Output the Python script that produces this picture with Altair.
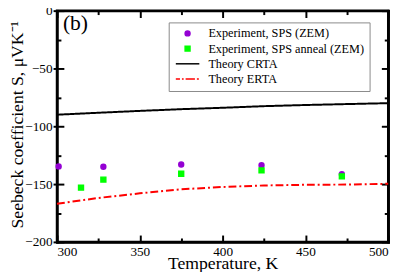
import altair as alt
import pandas as pd

# ---- data ----
series_names = ["Experiment, SPS (ZEM)", "Experiment, SPS anneal (ZEM)", "Theory CRTA", "Theory ERTA"]
series_colors = ["#9400D3", "#00FF00", "#000000", "#FF0000"]

T_sps = [301, 328, 375, 423.5, 472]
S_sps = [-134.7, -135.0, -133.1, -133.6, -141.4]
T_anneal = [314.5, 328, 375, 423.5, 472]
S_anneal = [-153.1, -146.1, -141.1, -138.1, -143.3]

T_theory = [300, 325, 350, 375, 400, 425, 450, 475, 500]
S_crta = [-90.0, -88.3, -86.7, -85.2, -84.0, -82.6, -81.6, -80.8, -80.0]
S_erta = [-167.0, -162.0, -158.0, -154.5, -152.5, -151.2, -150.6, -150.4, -149.7]

x_major = [300, 350, 400, 450, 500]
x_minor = [325, 375, 425, 475]
y_major = [0, -50, -100, -150, -200]
y_minor = [-25, -75, -125, -175]

pts = pd.DataFrame({
    "T": T_sps + T_anneal,
    "S": S_sps + S_anneal,
    "series": [series_names[0]] * len(T_sps) + [series_names[1]] * len(T_anneal),
})
lines = pd.DataFrame({
    "T": T_theory + T_theory,
    "S": S_crta + S_erta,
    "series": [series_names[2]] * len(T_theory) + [series_names[3]] * len(T_theory),
})

FONT = "Liberation Serif"
xscale = alt.Scale(domain=[300, 500], nice=False, zero=False)
yscale = alt.Scale(domain=[-200, 0], nice=False, zero=False)

line_path = "M-4.8,0H4.8"
dash_path = "M-4.8,0H-3.1M-2.3,0H-1.6M-0.8,0H3.0M3.8,0H4.6"

FRAME = dict(domain=True, domainColor="black", domainWidth=2.5, domainCap="square")

x_lab_axis = alt.Axis(values=x_major, ticks=False, tickSize=0, grid=False, **FRAME,
                      labelFont=FONT, labelFontSize=13.5, labelColor="black", labelPadding=3,
                      title="Temperature, K", titleFont=FONT, titleFontSize=18, titleFontWeight="normal",
                      titleColor="black", titleBaseline="alphabetic", titleY=27)
y_lab_axis = alt.Axis(values=y_major, ticks=False, tickSize=0, grid=False, **FRAME,
                      labelFont=FONT, labelFontSize=13.5, labelColor="black", labelPadding=5,
                      title="Seebeck coefficient S, μVK⁻¹", titleFont=FONT, titleFontSize=18,
                      titleFontWeight="normal", titleColor="black", titleX=-31.5, titleY=116)

theory = alt.Chart(lines).mark_line(strokeWidth=2).encode(
    x=alt.X("T:Q", scale=xscale, axis=x_lab_axis),
    y=alt.Y("S:Q", scale=yscale, axis=y_lab_axis),
    color=alt.Color("series:N", scale=alt.Scale(domain=series_names[2:], range=series_colors[2:]), legend=None),
    strokeDash=alt.StrokeDash("series:N", scale=alt.Scale(domain=series_names[2:], range=[[1, 0], [8, 3, 2, 3]]), legend=None),
)

legend = alt.Legend(title=None, orient="none", legendX=114, legendY=12,
                    labelFont=FONT, labelFontSize=12.5, labelColor="black",
                    symbolSize=25, symbolOffset=8, labelOffset=15,
                    padding=5, rowPadding=2.5, strokeColor="#888888",
                    fillColor="white", symbolStrokeWidth=1.5)
color_scale = alt.Scale(domain=series_names, range=series_colors)

points = alt.Chart(pts).mark_point(filled=True, opacity=1, size=25, strokeWidth=1.5).encode(
    x=alt.X("T:Q", scale=xscale, axis=None),
    y=alt.Y("S:Q", scale=yscale, axis=None),
    fill=alt.Fill("series:N", scale=color_scale, legend=legend),
    stroke=alt.Stroke("series:N", scale=color_scale, legend=legend),
    shape=alt.Shape("series:N", scale=alt.Scale(domain=series_names, range=["circle", "square", line_path, dash_path]),
                    legend=legend),
)


def tick_axis(orient, vals, size, offset):
    return alt.Axis(orient=orient, values=vals, labels=False, domain=False, grid=False, title=None,
                    ticks=True, tickSize=size, offset=offset, tickColor="black", tickWidth=2)


def frame_axis(orient):
    return alt.Axis(orient=orient, values=[], labels=False, ticks=False, grid=False, title=None, **FRAME)


def tick_layer(ax, ay):
    return alt.Chart(lines).mark_line(strokeOpacity=0).encode(
        x=alt.X("T:Q", scale=xscale, axis=ax),
        y=alt.Y("S:Q", scale=yscale, axis=ay),
        detail="series:N",
    )


chart = alt.layer(
    theory,
    points,
    tick_layer(tick_axis("bottom", x_major, 7, -7), tick_axis("left", y_major, 7, -7)),
    tick_layer(tick_axis("bottom", x_minor, 4, -4), tick_axis("left", y_minor, 4, -4)),
    tick_layer(tick_axis("top", x_major, 7, -7), tick_axis("right", y_major, 7, -7)),
    tick_layer(tick_axis("top", x_minor, 4, -4), tick_axis("right", y_minor, 4, -4)),
    tick_layer(frame_axis("top"), tick_axis("left", y_major, 4, 0)),
    tick_layer(None, frame_axis("right")),
).resolve_axis(x="independent", y="independent").properties(
    width=338, height=236,
    autosize=alt.AutoSizeParams(type="none"),
    padding={"left": 50, "top": 0, "right": 11, "bottom": 28},
    title=alt.TitleParams("(b)", anchor="start", frame="group", dx=6, dy=32, offset=0,
                          font=FONT, fontSize=22, fontWeight="normal", color="black"),
).configure(
    background="white", font=FONT,
).configure_view(
    stroke="black", strokeWidth=2.5,
).configure_axis(
    labelFont=FONT, titleFont=FONT, labelColor="black", titleColor="black",
).configure_legend(
    labelFont=FONT, labelColor="black",
)

chart.save("out.html", embed_options={"renderer": "svg", "actions": False})
